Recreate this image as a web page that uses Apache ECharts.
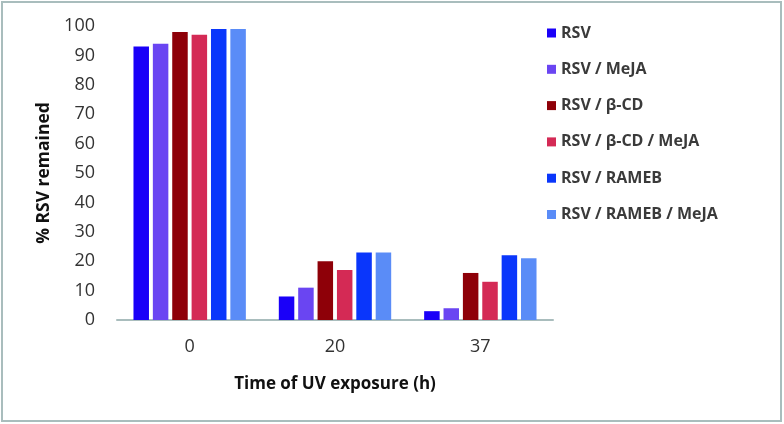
<!DOCTYPE html>
<html>
<head>
<meta charset="utf-8">
<script src="https://cdn.jsdelivr.net/npm/echarts@6/dist/echarts.min.js"></script>
<style>html,body{margin:0;padding:0;background:#fff}#c{width:784px;height:424px}</style>
</head>
<body>
<div id="c"></div>
<script>
var categories = ['0', '20', '37'];
var seriesNames = ['RSV', 'RSV / MeJA', 'RSV / β-CD', 'RSV / β-CD / MeJA', 'RSV / RAMEB', 'RSV / RAMEB / MeJA'];
var rsv = [93, 8, 3];
var rsvMeja = [94, 11, 4];
var rsvBcd = [98, 20, 16];
var rsvBcdMeja = [97, 17, 13];
var rsvRameb = [99, 23, 22];
var rsvRamebMeja = [99, 23, 21];
var yTicks = [0, 10, 20, 30, 40, 50, 60, 70, 80, 90, 100];

var values = [rsv, rsvMeja, rsvBcd, rsvBcdMeja, rsvRameb, rsvRamebMeja];
var colors = ['#1a00f8', '#6a45f2', '#8e0008', '#d42a55', '#0a36fb', '#5a8cf7'];
var font = '"Open Sans", sans-serif';

var chart = echarts.init(document.getElementById('c'));
chart.setOption({
  animation: false,
  textStyle: {fontFamily: font},
  graphic: [{
    type: 'rect', shape: {x: 2, y: 2, width: 779, height: 419},
    style: {fill: 'none', stroke: '#a9bdbd', lineWidth: 2}
  }],
  grid: {left: 117, right: 231, top: 26, bottom: 104},
  legend: {
    orient: 'vertical', left: 547, top: 24, padding: 0, itemWidth: 9, itemHeight: 9, itemGap: 18.3,
    icon: 'rect',
    textStyle: {fontFamily: font, fontSize: 16, fontWeight: 'bold', color: '#3a3a3a', lineHeight: 18},
    data: seriesNames
  },
  xAxis: {
    type: 'category', data: categories,
    name: 'Time of UV exposure (h)', nameLocation: 'middle', nameGap: 56,
    nameTextStyle: {fontFamily: font, fontSize: 17, fontWeight: 'bold', color: '#111'},
    axisLine: {lineStyle: {color: '#a9bdbd', width: 2}},
    axisTick: {show: false},
    axisLabel: {fontFamily: font, fontSize: 18, color: '#333', margin: 18}
  },
  yAxis: {
    type: 'value', min: 0, max: 100, interval: 10,
    name: '% RSV remained', nameLocation: 'middle', nameGap: 62,
    nameTextStyle: {fontFamily: font, fontSize: 17.5, fontWeight: 'bold', color: '#111'},
    axisLine: {show: false}, axisTick: {show: false}, splitLine: {show: false},
    axisLabel: {fontFamily: font, fontSize: 18, color: '#333', margin: 22,
      formatter: function (v) { return yTicks.indexOf(v) >= 0 ? String(v) : ''; }}
  },
  series: seriesNames.map(function (n, i) {
    return {
      name: n, type: 'bar', data: values[i], barWidth: 15.5, barGap: '25%',
      itemStyle: {color: colors[i]}
    };
  })
});
</script>
</body>
</html>
